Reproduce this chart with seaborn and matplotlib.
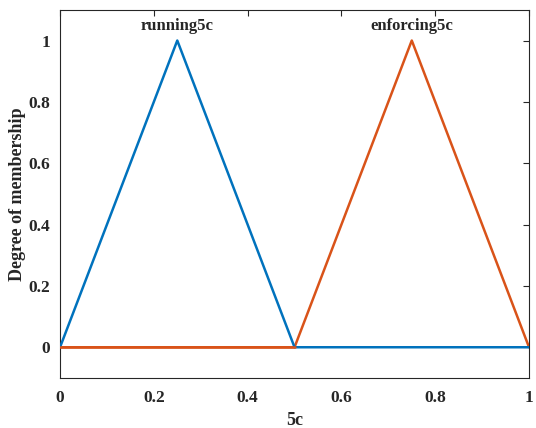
import numpy as np
import pandas as pd
import seaborn as sns
import matplotlib.pyplot as plt

# Membership functions ########################################################

x_running = [0, 0.25, 0.5, 1]
y_running = [0, 1, 0, 0]

x_enforcing = [0, 0.5, 0.75, 1]
y_enforcing = [0, 0, 1, 0]

mf_names = ['running5c', 'enforcing5c']
mf_peaks = [0.25, 0.75]

x_ticks = [0, 0.2, 0.4, 0.6, 0.8, 1]
y_ticks = [0, 0.2, 0.4, 0.6, 0.8, 1]

blue = '#0072BD'
orange = '#D95319'

sns.set_style('white')
plt.rcParams['font.family'] = ['Liberation Serif', 'DejaVu Serif']
plt.rcParams['font.weight'] = 'bold'

df_run = pd.DataFrame({'x': x_running, 'y': y_running})
df_enf = pd.DataFrame({'x': x_enforcing, 'y': y_enforcing})

fig = plt.figure(figsize=(5.36, 4.28), dpi=100)
ax = fig.add_axes([0.112, 0.117, 0.875, 0.860])

sns.lineplot(data=df_enf, x='x', y='y', color=orange, linewidth=1.8,
             estimator=None, sort=False, ax=ax, zorder=2)
sns.lineplot(data=df_run, x='x', y='y', color=blue, linewidth=1.8,
             estimator=None, sort=False, ax=ax, zorder=3)
# orange baseline sits on top left of 0.5
sns.lineplot(data=df_enf.iloc[:2], x='x', y='y', color=orange, linewidth=1.8,
             estimator=None, sort=False, ax=ax, zorder=4)

for name, peak in zip(mf_names, mf_peaks):
    ax.text(peak, 1.02, name, ha='center', va='bottom', fontsize=12,
            fontweight='bold')

ax.set_xlim(0, 1)
ax.set_ylim(-0.1, 1.1)
ax.set_xticks(x_ticks)
ax.set_yticks(y_ticks)
ax.set_xticklabels(['0', '0.2', '0.4', '0.6', '0.8', '1'])
ax.set_yticklabels(['0', '0.2', '0.4', '0.6', '0.8', '1'])
ax.tick_params(direction='in', length=4, width=0.8, top=True, right=True,
               labelsize=12.5, colors='#262626')
ax.tick_params(axis='x', pad=9)
ax.tick_params(axis='y', pad=7)
for s in ax.spines.values():
    s.set_color('#262626')
    s.set_linewidth(0.8)

ax.set_xlabel('5c', fontsize=13, fontweight='bold', labelpad=4)
ax.set_ylabel('Degree of membership', fontsize=13, fontweight='bold', labelpad=2)

fig.savefig('out.png', dpi=100)
